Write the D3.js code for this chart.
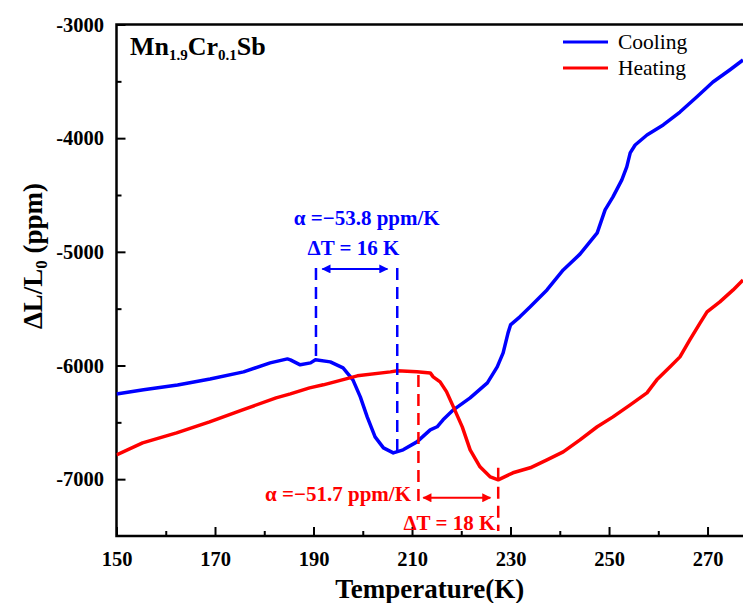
<!DOCTYPE html>
<html>
<head>
<meta charset="utf-8">
<script src="https://cdn.jsdelivr.net/npm/d3@7/dist/d3.min.js"></script>
<style>
  body { margin: 0; background: #fff; }
  text { font-family: "Liberation Serif", "Times New Roman", serif; fill: #000; }
  .tick text { font-weight: bold; font-size: 20.5px; }
  .tick line { stroke: #000; stroke-width: 2; }
  .note { font-weight: bold; font-size: 21px; }
</style>
</head>
<body>
<div id="chart"></div>
<script>
// cooling curve (K, ppm)
var coolingT = [150, 155.5, 162.4, 169, 175.8, 181.2, 184.7, 185.3, 187.3, 189.4, 190.4, 193.4, 196, 198,
  199.5, 200.9, 202.5, 204.2, 206.2, 208.2, 211, 213.7, 215.1, 216.3, 218.4, 221.8, 225.3, 227.3, 228.5,
  229.5, 230, 231.9, 234, 237.4, 240.7, 244.1, 247.6, 249.2, 250.8, 252.6, 253.6, 254.3, 255.3, 257.7,
  261, 264.4, 267.8, 271.1, 274.5, 277.2];
var coolingV = [-6250, -6214, -6171, -6118, -6056, -5977, -5942, -5950, -5994, -5977, -5950, -5968, -6021, -6126,
  -6276, -6452, -6628, -6725, -6769, -6742, -6672, -6566, -6539, -6478, -6390, -6285, -6153, -6012, -5889,
  -5713, -5643, -5572, -5484, -5335, -5159, -5020, -4833, -4631, -4517, -4367, -4253, -4130, -4060, -3972,
  -3884, -3770, -3638, -3506, -3400, -3312];

// heating curve
var heatingT = [150, 155.3, 162.2, 168.9, 175.6, 182.4, 185.3, 189.2, 192, 198.9, 205.6, 207, 211, 213.7,
  214.3, 215.7, 217, 218.4, 220.2, 221.8, 223.8, 225.9, 227.5, 230.5, 234, 237.4, 240.7, 244.1, 247.6,
  250.8, 254.3, 257.7, 259.7, 262.4, 264.4, 266.4, 268.5, 269.9, 272.5, 275.2, 277.2];
var heatingV = [-6786, -6681, -6593, -6496, -6390, -6285, -6250, -6197, -6170, -6091, -6056, -6047, -6056, -6065,
  -6100, -6144, -6230, -6364, -6540, -6742, -6891, -6980, -7006, -6944, -6900, -6830, -6760, -6654, -6539,
  -6452, -6346, -6241, -6126, -6012, -5924, -5775, -5625, -5528, -5440, -5335, -5247];

var xMajor = [150, 170, 190, 210, 230, 250, 270];
var xMinor = [160, 180, 200, 220, 240, 260];
var yMajor = [-3000, -4000, -5000, -6000, -7000];
var yMinor = [-3500, -4500, -5500, -6500];

var seriesNames = ["Cooling", "Heating"];
var seriesColors = ["#0000ff", "#ff0000"];

var svgWidth = 743;
var svgHeight = 603;
var margin = { top: 24.5, right: 0, bottom: 67, left: 116.5 };
var width = svgWidth - margin.left - margin.right;
var height = svgHeight - margin.top - margin.bottom;

var svg = d3.select("#chart")
  .append("svg")
  .attr("width", svgWidth)
  .attr("height", svgHeight);

var defs = svg.append("defs");
defs.append("clipPath").attr("id", "plotclip")
  .append("rect").attr("width", width).attr("height", height);

seriesColors.forEach(function(c, i) {
  defs.append("marker")
    .attr("id", "arrow" + i)
    .attr("viewBox", "0 0 10 10")
    .attr("refX", 9).attr("refY", 5)
    .attr("markerWidth", 12).attr("markerHeight", 9)
    .attr("markerUnits", "userSpaceOnUse")
    .attr("orient", "auto-start-reverse")
    .append("path").attr("d", "M0,0L10,5L0,10z").attr("fill", c);
});

var chart = svg.append("g")
  .attr("transform", "translate(" + margin.left + "," + margin.top + ")");

var x = d3.scaleLinear().domain([150, 277.2]).range([0, width]);
var y = d3.scaleLinear().domain([-7500, -3000]).range([height, 0]);

// axes, ticks inward
var fmt = function(d) { return String(d); };
chart.append("g")
  .attr("transform", "translate(0," + height + ")")
  .call(d3.axisBottom(x).tickValues(xMajor).tickSize(-9).tickPadding(15).tickFormat(fmt));
chart.append("g")
  .attr("transform", "translate(0," + height + ")")
  .call(d3.axisBottom(x).tickValues(xMinor).tickSize(-5).tickFormat(""));
chart.append("g")
  .call(d3.axisLeft(y).tickValues(yMajor).tickSize(-9).tickPadding(12.5).tickFormat(fmt));
chart.append("g")
  .call(d3.axisLeft(y).tickValues(yMinor).tickSize(-5).tickFormat(""));
chart.selectAll(".domain").remove();

// frame
chart.append("path")
  .attr("d", "M" + width + ",0H0V" + height + "H" + width)
  .attr("fill", "none")
  .attr("stroke", "#000")
  .attr("stroke-width", 2.5);

// curves
var line = d3.line()
  .x(function(d) { return x(d[0]); })
  .y(function(d) { return y(d[1]); });

var series = [d3.zip(coolingT, coolingV), d3.zip(heatingT, heatingV)];
chart.append("g").attr("clip-path", "url(#plotclip)")
  .selectAll("path")
  .data(series)
  .enter().append("path")
    .attr("d", line)
    .attr("fill", "none")
    .attr("stroke", function(d, i) { return seriesColors[i]; })
    .attr("stroke-width", 3.5)
    .attr("stroke-linejoin", "round");

// dashed guide lines [T, top, bottom, series]
var guides = [[190.5, -5142, -5924, 0], [207, -5142, -6760, 0], [211.3, -6083, -7250, 1], [227.5, -6900, -7455, 1]];
chart.selectAll(".guide")
  .data(guides)
  .enter().append("line")
    .attr("class", "guide")
    .attr("x1", function(d) { return x(d[0]); })
    .attr("x2", function(d) { return x(d[0]); })
    .attr("y1", function(d) { return y(d[1]); })
    .attr("y2", function(d) { return y(d[2]); })
    .attr("stroke", function(d) { return seriesColors[d[3]]; })
    .attr("stroke-width", 2.5)
    .attr("stroke-dasharray", "12,7");

// double arrows [T1, T2, value, series]
var arrows = [[191.8, 205, -5150, 0], [212.3, 225.9, -7164, 1]];
chart.selectAll(".arr")
  .data(arrows)
  .enter().append("line")
    .attr("class", "arr")
    .attr("x1", function(d) { return x(d[0]); })
    .attr("x2", function(d) { return x(d[1]); })
    .attr("y1", function(d) { return y(d[2]); })
    .attr("y2", function(d) { return y(d[2]); })
    .attr("stroke", function(d) { return seriesColors[d[3]]; })
    .attr("stroke-width", 2)
    .attr("marker-start", function(d) { return "url(#arrow" + d[3] + ")"; })
    .attr("marker-end", function(d) { return "url(#arrow" + d[3] + ")"; });

// annotation texts [text, T, value, anchor, series]
var notes = [["\u03b1 =\u221253.8 ppm/K", 200.8, -4763, "middle", 0],
  ["\u0394T = 16 K", 198.1, -5027, "middle", 0],
  ["\u03b1 =\u221251.7 ppm/K", 209.8, -7190, "end", 1],
  ["\u0394T = 18 K", 226.9, -7446, "end", 1]];
chart.selectAll(".note")
  .data(notes)
  .enter().append("text")
    .attr("class", "note")
    .attr("x", function(d) { return x(d[1]); })
    .attr("y", function(d) { return y(d[2]); })
    .attr("text-anchor", function(d) { return d[3]; })
    .style("fill", function(d) { return seriesColors[d[4]]; })
    .text(function(d) { return d[0]; });

// legend
var legend = chart.append("g").attr("transform", "translate(" + (563 - margin.left) + "," + (42 - margin.top) + ")");
seriesNames.forEach(function(name, i) {
  legend.append("line")
    .attr("x1", 0).attr("x2", 45)
    .attr("y1", i * 26).attr("y2", i * 26)
    .attr("stroke", seriesColors[i])
    .attr("stroke-width", 3);
  legend.append("text")
    .attr("x", 55).attr("y", i * 26)
    .attr("dy", "0.33em")
    .style("font-size", "21.5px")
    .text(name);
});

// compound label
var title = chart.append("text")
  .attr("x", 130 - margin.left)
  .attr("y", 55 - margin.top)
  .style("font-size", "26px")
  .style("font-weight", "bold");
title.append("tspan").text("Mn");
title.append("tspan").attr("dy", 5).style("font-size", "15px").text("1.9");
title.append("tspan").attr("dy", -5).text("Cr");
title.append("tspan").attr("dy", 5).style("font-size", "15px").text("0.1");
title.append("tspan").attr("dy", -5).text("Sb");

// axis titles
chart.append("text")
  .attr("x", width / 2)
  .attr("y", height + 62)
  .attr("text-anchor", "middle")
  .style("font-size", "27px")
  .style("font-weight", "bold")
  .text("Temperature(K)");

var ylab = chart.append("text")
  .attr("transform", "rotate(-90)")
  .attr("x", -(256 - margin.top))
  .attr("y", 42 - margin.left)
  .attr("text-anchor", "middle")
  .style("font-size", "27px")
  .style("font-weight", "bold");
ylab.append("tspan").text("\u0394L/L");
ylab.append("tspan").attr("dy", 5).style("font-size", "17px").text("0");
ylab.append("tspan").attr("dy", -5).text(" (ppm)");
</script>
</body>
</html>
